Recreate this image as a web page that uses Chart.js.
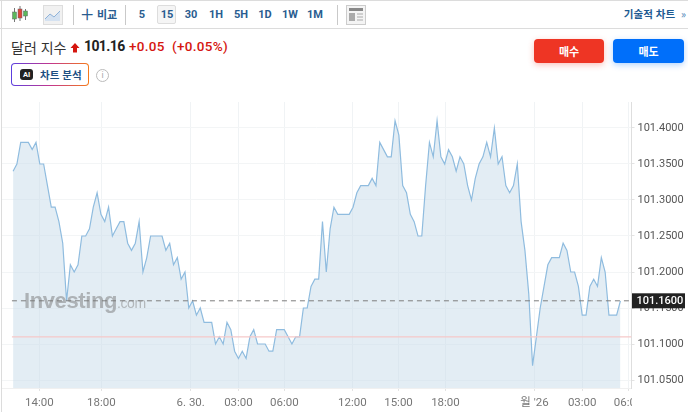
<!DOCTYPE html>
<html lang="ko">
<head>
<meta charset="utf-8">
<title>달러 지수</title>
<script src="https://cdn.jsdelivr.net/npm/chart.js@4"></script>
<style>
  html, body { margin: 0; padding: 0; background: #fff; }
  body { width: 688px; height: 412px; overflow: hidden; position: relative; font-family: Roboto, "Noto Sans CJK KR", sans-serif; }
  .abs { position: absolute; white-space: nowrap; }
  #frameTop { left: 0; top: 0; width: 688px; height: 29px; border-top: 1px solid #dcdcdc; border-bottom: 1px solid #dcdcdc; box-sizing: border-box; }
  #frameLeft { left: 1px; top: 0; width: 1px; height: 412px; background: #dcdcdc; }
  .sep { top: 5px; width: 1px; height: 20px; background: #c9c9c9; }
  .iv { top: 8px; font: bold 11px Roboto, sans-serif; color: #2a5d90; transform: translateX(-50%); }
  #iv15box { left: 157px; top: 5px; width: 19px; height: 19px; box-sizing: border-box; border: 1px solid #ddd; background: #f5f5f5; border-radius: 2px; }
  #compare { left: 97px; top: 6px; font: bold 11px "Noto Sans CJK KR", sans-serif; color: #2a5d90; }
  #plus { left: 81px; top: 2px; font: 300 22px Roboto, sans-serif; color: #2a5d90; }
  #techChart { right: 2px; top: 6px; font: bold 10.5px "Noto Sans CJK KR", sans-serif; color: #1d5a92; }
  #name { left: 11px; top: 37px; font: 14px "Noto Sans CJK KR", sans-serif; color: #333; }
  #price { left: 84px; top: 38px; font: bold 14px Roboto, sans-serif; color: #222; letter-spacing: -.6px; }
  #change { left: 129px; top: 38px; font: 500 13.5px Roboto, sans-serif; color: #d5160f; letter-spacing: .3px; }
  #aiBtn { left: 11px; top: 63px; width: 78px; height: 23px; box-sizing: border-box; border: 1px solid transparent; border-radius: 4px;
    background: linear-gradient(#fff,#fff) padding-box, linear-gradient(90deg,#5b3fe0,#c2368f,#f57a1a) border-box; }
  #aiText { left: 40px; top: 67px; font: bold 10.5px "Noto Sans CJK KR", sans-serif; color: #1d4f82; }
  #aiBubble { left: 20px; top: 69px; width: 13px; height: 11px; background: #222; border-radius: 3px; color: #fff; font: bold 7.5px Roboto, sans-serif; text-align: center; line-height: 11px; }
  #info { left: 96px; top: 69px; width: 13px; height: 13px; box-sizing: border-box; border: 1px solid #bbb; border-radius: 50%; color: #aaa; font: 9px Roboto, sans-serif; text-align: center; line-height: 11px; }
  .trade { top: 39px; height: 24px; border-radius: 4px; color: #fff; font: bold 11px "Noto Sans CJK KR", sans-serif; text-align: center; line-height: 24px; }
  #buy { left: 534px; width: 70px; background: #ee3524; box-shadow: 0 2px 6px rgba(238,53,36,.3); }
  #sell { left: 613px; width: 71px; background: #006ffa; box-shadow: 0 2px 6px rgba(0,111,250,.3); }
  #wrap { left: 0; top: 0; width: 688px; height: 412px; }
  #mark { left: 24px; top: 288px; font: bold 22px "Liberation Sans", sans-serif; color: rgba(120,120,120,.5); letter-spacing: -.4px; filter: blur(.4px); }
  #mark span { font-weight: 400; font-size: 14px; color: rgba(130,130,130,.5); }
</style>
</head>
<body>
<div class="abs" id="frameTop"></div>
<div class="abs" id="frameLeft"></div>

<svg class="abs" style="left:11px;top:6px" width="18" height="18">
  <path d="M3.5 2v14M9 0v15M14.5 3v11" stroke="#777" fill="none"/>
  <rect x="1.5" y="6" width="4" height="7" fill="#5cb85c" stroke="#666" stroke-width=".5"/>
  <rect x="7" y="3" width="4" height="9" fill="#e0443a" stroke="#666" stroke-width=".5"/>
  <rect x="12.5" y="5" width="4" height="5" fill="#5cb85c" stroke="#666" stroke-width=".5"/>
</svg>
<svg class="abs" style="left:43px;top:5px" width="20" height="20">
  <rect x=".5" y=".5" width="19" height="19" fill="#f1f1f1" stroke="#ddd"/>
  <path d="M2 14L7 9L11 12L17 6V16H2Z" fill="#d5e2f1"/>
  <path d="M2 14L7 9L11 12L17 6" stroke="#8fb2d8" fill="none"/>
</svg>
<div class="abs sep" style="left:73px"></div>
<div class="abs" id="plus">+</div>
<div class="abs" id="compare">비교</div>
<div class="abs sep" style="left:125px"></div>
<div class="abs" id="iv15box"></div>
<div class="abs iv" style="left:142px">5</div>
<div class="abs iv" style="left:167px">15</div>
<div class="abs iv" style="left:191px">30</div>
<div class="abs iv" style="left:216px">1H</div>
<div class="abs iv" style="left:241px">5H</div>
<div class="abs iv" style="left:265px">1D</div>
<div class="abs iv" style="left:290px">1W</div>
<div class="abs iv" style="left:315px">1M</div>
<div class="abs sep" style="left:337px"></div>
<svg class="abs" style="left:346px;top:5px" width="20" height="20">
  <rect x=".5" y=".5" width="19" height="19" fill="#f4f4f4" stroke="#ccc"/>
  <rect x="3" y="3" width="14" height="3" fill="#888"/>
  <rect x="3" y="8" width="6" height="8" fill="#aaa"/>
  <path d="M11 9h6M11 12h6M11 15h6" stroke="#aaa"/>
</svg>
<div class="abs" id="techChart">기술적 차트 <span style="font-weight:400;color:#4a7fb5">&nbsp;»</span></div>

<div class="abs" id="name">달러 지수</div>
<svg class="abs" style="left:70px;top:43px" width="10" height="10"><path d="M5 0L9.5 5H7V9.5H3V5H.5Z" fill="#d5160f"/></svg>
<div class="abs" id="price">101.16</div>
<div class="abs" id="change">+0.05 &nbsp;(+0.05%)</div>
<div class="abs" id="aiBtn"></div>
<div class="abs" id="aiBubble">AI</div>
<div class="abs" id="aiText">차트 분석</div>
<div class="abs" id="info">i</div>
<div class="abs trade" id="buy">매수</div>
<div class="abs trade" id="sell">매도</div>

<div class="abs" id="wrap"><canvas id="chart" width="688" height="412"></canvas></div>
<div class="abs" id="mark">Investing<span>.com</span></div>

<script>
// values every 15 min
const values = [
  101.34,101.35,101.38,101.38,101.38,101.37,101.38,101.35,101.35,101.32,
  101.29,101.29,101.27,101.24,101.16,101.21,101.20,101.21,101.25,101.25,
  101.26,101.29,101.31,101.28,101.27,101.29,101.25,101.26,101.27,101.27,
  101.24,101.23,101.24,101.27,101.20,101.22,101.25,101.25,101.25,101.25,
  101.23,101.24,101.21,101.22,101.19,101.20,101.15,101.16,101.14,101.15,
  101.13,101.13,101.13,101.10,101.11,101.10,101.13,101.12,101.09,101.08,
  101.09,101.08,101.11,101.12,101.10,101.10,101.10,101.09,101.09,101.12,
  101.12,101.12,101.11,101.10,101.11,101.11,101.15,101.15,101.18,101.19,
  101.19,101.27,101.20,101.26,101.29,101.28,101.28,101.28,101.28,101.29,
  101.31,101.32,101.32,101.32,101.33,101.32,101.38,101.37,101.36,101.36,
  101.41,101.39,101.32,101.31,101.28,101.27,101.25,101.25,101.32,101.38,
  101.36,101.41,101.36,101.35,101.37,101.36,101.34,101.36,101.35,101.32,
  101.30,101.33,101.35,101.36,101.38,101.36,101.40,101.35,101.36,101.32,
  101.31,101.32,101.35,101.27,101.23,101.17,101.07,101.11,101.15,101.18,
  101.21,101.22,101.22,101.22,101.24,101.23,101.20,101.20,101.18,101.14,
  101.14,101.18,101.19,101.18,101.22,101.20,101.14,101.14,101.14,101.16
];
const yTicks = [101.05,101.10,101.15,101.20,101.25,101.30,101.35,101.40];
const xTickLabels = ['14:00','18:00','6. 30.','03:00','06:00','12:00','15:00','18:00',"월 '26",'03:00','06:00'];
const xTickBars = [6.9,23.1,46.5,59,71,88.8,100.9,113.2,136.5,149,161];
const lastPrice = 101.16;
const refPrice = 101.11;
const xMin = -2.9, xMax = 161.9;

// price tag on the axis, and cut the last time label like the original
const overlay = {
  id: 'overlay',
  afterDraw(c) {
    const ctx = c.ctx;
    const y = c.scales.y.getPixelForValue(lastPrice);
    ctx.save();
    ctx.fillStyle = '#fff';
    ctx.fillRect(632, 391, 56, 21);
    ctx.fillStyle = '#222';
    ctx.fillRect(632, y - 7.5, 53, 15);
    ctx.fillStyle = '#fff';
    ctx.font = '500 11px Roboto';
    ctx.textBaseline = 'middle';
    ctx.fillText(lastPrice.toFixed(4), 636.5, y + .5);
    ctx.restore();
  }
};

new Chart(document.getElementById('chart'), {
  type: 'line',
  plugins: [overlay],
  data: {
    datasets: [
      {
        data: [{ x: -0.3, y: lastPrice }, { x: xMax, y: lastPrice }],
        borderColor: '#7d7d7d', borderWidth: 1, borderDash: [5, 4], pointRadius: 0
      },
      {
        data: [{ x: -0.3, y: refPrice }, { x: xMax, y: refPrice }],
        borderColor: '#f6c9c9', borderWidth: 1.2, pointRadius: 0
      },
      {
        data: values.map((v, i) => ({ x: i, y: v })),
        borderColor: '#8fbcdf', borderWidth: 1.2, backgroundColor: 'rgba(203,221,234,.53)',
        fill: 'start', pointRadius: 0, tension: 0
      }
    ]
  },
  options: {
    responsive: false,
    animation: false,
    events: [],
    layout: { padding: { left: 2, top: 102, right: 0, bottom: 0 } },
    plugins: { legend: { display: false }, tooltip: { enabled: false } },
    scales: {
      x: {
        type: 'linear', min: xMin, max: xMax,
        afterBuildTicks(s) { s.ticks = xTickBars.map(v => ({ value: v })); },
        afterFit(s) { s.height = 24; },
        grid: { color: '#f0f3f5', tickColor: '#e3e3e3', tickLength: 3 },
        border: { color: '#f0f0f0' },
        ticks: {
          autoSkip: false, maxRotation: 0, padding: 5,
          color: '#777', font: { family: 'Roboto, "Noto Sans CJK KR"', size: 11.5 },
          callback(v, i) { return xTickLabels[i]; }
        }
      },
      y: {
        position: 'right', min: 101.0389, max: 101.4361,
        afterBuildTicks(s) { s.ticks = yTicks.map(v => ({ value: v })); },
        afterFit(s) { s.width = 56.5; },
        grid: { color: '#f3f5f6', tickColor: '#e3e3e3', tickLength: 3 },
        border: { color: '#dedede' },
        ticks: {
          padding: 3, color: '#555', align: 'center', crossAlign: 'near',
          font: { family: 'Roboto', size: 11 },
          callback(v) { return v.toFixed(4); }
        }
      }
    }
  }
});
</script>
</body>
</html>
